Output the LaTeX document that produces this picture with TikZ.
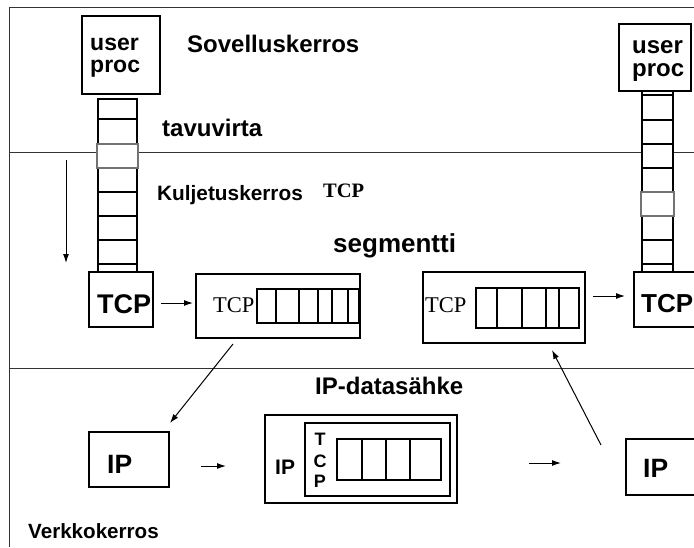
\documentclass[tikz,border=0pt]{standalone}
\usepackage{fontspec}
\setmainfont{Liberation Sans}
\newfontfamily\seriffont{Liberation Serif}
\usetikzlibrary{arrows.meta}
\newcommand{\fs}[1]{\fontsize{#1}{#1}\selectfont}
\begin{document}
\begin{tikzpicture}[x=1pt,y=-1pt,
  frameline/.style={draw=black!80,line width=1pt},
  box/.style={draw,line width=1.2pt,fill=white,inner sep=0pt},
  stackbox/.style={draw,line width=1.2pt,fill=white},
  greycell/.style={draw=black!55,line width=1.1pt,fill=white},
  conn/.style={line width=1pt,-{Latex[length=9pt,width=6pt]}},
  lbl/.style={inner sep=0pt,anchor=base west,font=\bfseries}]
\useasboundingbox (0,0) rectangle (694,547);
% frame and layer lines
\draw[frameline] (9,547) -- (9,7) -- (694,7);
\draw[frameline] (9,152) -- (694,152);
\draw[frameline] (9,368) -- (694,368);
% left stack
\draw[stackbox] (98,99) rectangle (137,273);
\foreach \yy in {119,144,168,192,216,240,264} \draw[line width=1.2pt] (98,\yy) -- (137,\yy);
\draw[greycell] (97,144) rectangle (138,168);
% right stack
\draw[stackbox] (642,91) rectangle (673,272);
\foreach \yy in {95,120,144,168,192,216,240,264} \draw[line width=1.2pt] (642,\yy) -- (673,\yy);
\draw[greycell] (641,192) rectangle (674,216);
% user proc boxes
\node[box,minimum width=78pt,minimum height=78pt] (userL) at (121,55) {};
\node[lbl,font=\bfseries\fs{23}] at (90,50) {user};
\node[lbl,font=\bfseries\fs{23}] at (90,72.5) {proc};
\node[box,minimum width=72pt,minimum height=67pt] (userR) at (655,57.5) {};
\node[lbl,font=\bfseries\fs{24}] at (632,53) {user};
\node[lbl,font=\bfseries\fs{24}] at (632,76) {proc};
% TCP boxes
\node[box,minimum width=64pt,minimum height=55pt] (tcpL) at (121,299.5) {};
\node[lbl,font=\bfseries\fs{27}] at (97,313) {TCP};
\node[box,minimum width=72pt,minimum height=55pt] (tcpR) at (670,299.5) {};
\node[lbl,font=\bfseries\fs{26}] at (641,312) {TCP};
% segment left
\node[box,minimum width=164pt,minimum height=64pt] (segL) at (278,306) {};
\node[lbl,font=\seriffont\fs{22.5}] at (213,312) {TCP};
\draw[line width=1.2pt] (257,289) rectangle (359,323);
\foreach \xx in {276,299,318,332,348} \draw[line width=1.2pt] (\xx,289) -- (\xx,323);
% segment right
\node[box,minimum width=162pt,minimum height=71pt] (segR) at (504,307.5) {};
\node[lbl,font=\seriffont\fs{22.5}] at (425,312) {TCP};
\draw[line width=1.2pt] (476,288) rectangle (579,328);
\foreach \xx in {497,522,546,559} \draw[line width=1.2pt] (\xx,288) -- (\xx,328);
% IP boxes
\node[box,minimum width=80pt,minimum height=55pt] (ipL) at (129,459.5) {};
\node[lbl,font=\bfseries\fs{26.5}] at (107,473) {IP};
\node[box,minimum width=84pt,minimum height=56pt] (ipR) at (668,467) {};
\node[lbl,font=\bfseries\fs{26.5}] at (643,477) {IP};
% IP datagram
\node[box,minimum width=192pt,minimum height=88pt] (dg) at (361,459) {};
\node[lbl,font=\bfseries\fs{21}] at (275,474) {IP};
\node[box,minimum width=145pt,minimum height=73pt] (dgin) at (377.5,459.5) {};
\node[inner sep=0pt,anchor=base,font=\bfseries\fs{18}] at (320,445) {T};
\node[inner sep=0pt,anchor=base,font=\bfseries\fs{18}] at (320,467) {C};
\node[inner sep=0pt,anchor=base,font=\bfseries\fs{18}] at (320,487) {P};
\draw[line width=1.2pt] (337,439) rectangle (441,480);
\foreach \xx in {362,386,410} \draw[line width=1.2pt] (\xx,439) -- (\xx,480);
% labels
\node[lbl,font=\bfseries\fs{24}] at (187,52) {Sovelluskerros};
\node[lbl,font=\bfseries\fs{24}] at (162,136) {tavuvirta};
\node[lbl,font=\bfseries\fs{20.8}] at (157,200) {Kuljetuskerros};
\node[lbl,font=\seriffont\bfseries\fs{20.5}] at (323,197) {TCP};
\node[lbl,font=\bfseries\fs{26}] at (333,252) {segmentti};
\node[lbl,font=\bfseries\fs{24}] at (315,394) {IP-datasähke};
\node[lbl,font=\bfseries\fs{20.6}] at (28,538) {Verkkokerros};
% connector end points
\coordinate (dA) at (66,160); \coordinate (dB) at (66,263);
\coordinate (a1) at (161,303); \coordinate (a2) at (193,303);
\coordinate (b1) at (593,296); \coordinate (b2) at (625,296);
\coordinate (c1) at (201,466); \coordinate (c2) at (226,466);
\coordinate (e1) at (529,463); \coordinate (e2) at (561,463);
\coordinate (f1) at (233,344); \coordinate (f2) at (170,423);
\coordinate (g1) at (601,445); \coordinate (g2) at (552,350);
\draw[conn] (dA) -- (dB);
\draw[conn] (a1) -- (a2);
\draw[conn] (b1) -- (b2);
\draw[conn] (c1) -- (c2);
\draw[conn] (e1) -- (e2);
\draw[conn] (f1) -- (f2);
\draw[conn] (g1) -- (g2);
\end{tikzpicture}
\end{document}
